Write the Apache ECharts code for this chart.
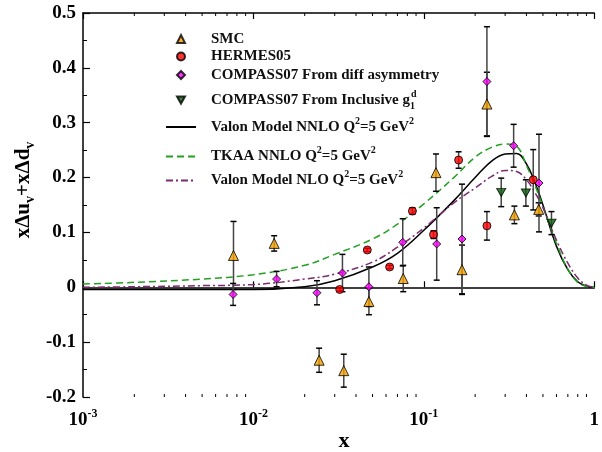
<!DOCTYPE html>
<html>
<head>
<meta charset="utf-8">
<script src="https://cdn.jsdelivr.net/npm/echarts@6/dist/echarts.min.js"></script>
<style>html,body{margin:0;padding:0;background:#fff;}#c{width:602px;height:452px;}</style>
</head>
<body>
<div id="c"></div>
<script>
// ---- data ----
const curveX    = [0.001, 0.002, 0.005, 0.01, 0.02, 0.03, 0.05, 0.07, 0.1, 0.15, 0.2, 0.25, 0.3, 0.35, 0.4, 0.45, 0.5, 0.6, 0.7, 0.8, 0.9, 1.0];
const valonNNLO = [-0.004, -0.004, -0.004, -0.004, 0.001, 0.012, 0.037, 0.062, 0.104, 0.158, 0.200, 0.230, 0.243, 0.244, 0.225, 0.190, 0.150, 0.075, 0.032, 0.010, 0.002, 0.0];
const tkaaNNLO  = [0.006, 0.009, 0.015, 0.023, 0.040, 0.060, 0.088, 0.115, 0.152, 0.200, 0.237, 0.255, 0.261, 0.257, 0.222, 0.185, 0.147, 0.080, 0.033, 0.009, 0.002, 0.0];
const valonNLO  = [0.000, 0.001, 0.003, 0.005, 0.015, 0.024, 0.046, 0.073, 0.108, 0.154, 0.181, 0.202, 0.213, 0.211, 0.196, 0.172, 0.145, 0.086, 0.044, 0.017, 0.004, 0.0];

const smcX   = [0.00764, 0.01324, 0.0243, 0.0339, 0.0476, 0.0757, 0.1178, 0.1675, 0.2345, 0.340, 0.472];
const smcY   = [0.058, 0.080, -0.133, -0.152, -0.026, 0.016, 0.209, 0.032, 0.334, 0.132, 0.142];
const smcErr = [0.062, 0.014, 0.022, 0.030, 0.024, 0.024, 0.034, 0.045, 0.058, 0.016, 0.012];

const hermesX   = [0.0321, 0.0466, 0.063, 0.0857, 0.114, 0.160, 0.2345, 0.4385];
const hermesY   = [-0.004, 0.068, 0.037, 0.139, 0.096, 0.232, 0.112, 0.196];
const hermesErr = [0.003, 0.003, 0.003, 0.006, 0.007, 0.015, 0.026, 0.055];

const cdiffX   = [0.0076, 0.01368, 0.0236, 0.0333, 0.0476, 0.0752, 0.119, 0.1675, 0.2345, 0.3365, 0.474];
const cdiffY   = [-0.013, 0.015, -0.010, 0.026, 0.001, 0.082, 0.079, 0.088, 0.375, 0.258, 0.190];
const cdiffErr = [0.020, 0.014, 0.022, 0.034, 0.036, 0.043, 0.066, 0.100, 0.100, 0.039, 0.089];

const cinclX   = [0.2845, 0.397, 0.561];
const cinclY   = [0.173, 0.172, 0.117];
const cinclErr = [0.026, 0.024, 0.021];

const yTicks = [-0.2, 0.5, 0.1]; // min, max, interval
const xRange = [0.001, 1];

// ---- chart ----
const FONT = '"Liberation Serif", "Times New Roman", serif';
const chart = echarts.init(document.getElementById('c'), null, {renderer: 'canvas'});

function pts(xs, ys) { return xs.map((x, i) => [x, ys[i]]); }
function errPts(xs, ys, es) { return xs.map((x, i) => [x, ys[i], es[i]]); }

function errRender(params, api) {
  const x = api.value(0), y = api.value(1), e = api.value(2);
  const lo = api.coord([x, y - e]), hi = api.coord([x, y + e]);
  const w = 3;
  const st = {stroke: '#444', lineWidth: 1.5};
  const sc = {stroke: '#000', lineWidth: 1.5};
  return {type: 'group', children: [
    {type: 'line', shape: {x1: lo[0], y1: lo[1], x2: hi[0], y2: hi[1]}, style: st},
    {type: 'line', shape: {x1: lo[0] - w, y1: lo[1], x2: lo[0] + w, y2: lo[1]}, style: sc},
    {type: 'line', shape: {x1: hi[0] - w, y1: hi[1], x2: hi[0] + w, y2: hi[1]}, style: sc}
  ]};
}

function minorTickRender(params, api) {
  const children = [];
  const lo = Math.round(Math.log10(xRange[0])), hi = Math.round(Math.log10(xRange[1]));
  for (let d = lo; d < hi; d++) {
    for (let k = 2; k <= 9; k++) {
      const v = k * Math.pow(10, d);
      const b = api.coord([v, yTicks[0]]);
      const t = api.coord([v, yTicks[1]]);
      children.push({type: 'line', shape: {x1: b[0], y1: b[1], x2: b[0], y2: b[1] - 3}, style: {stroke: '#000', lineWidth: 1}});
      children.push({type: 'line', shape: {x1: t[0], y1: t[1], x2: t[0], y2: t[1] + 3}, style: {stroke: '#000', lineWidth: 1}});
    }
  }
  return {type: 'group', children};
}

const downTri = 'path://M0,0 L10,0 L5,9 Z';

const labelMap = {
  'SMC': '{b|SMC}',
  'HERMES05': '{b|HERMES05}',
  'COMPASS07 From diff asymmetry': '{b|COMPASS07 From diff asymmetry}',
  'COMPASS07 From Inclusive g1d': '{b|COMPASS07 From Inclusive g}{sub|1}{sup|d}',
  'Valon Model NNLO Q2=5 GeV2': '{b|Valon Model NNLO Q}{sup|2}{b|=5 GeV}{sup|2}',
  'TKAA NNLO Q2=5 GeV2': '{b|TKAA NNLO Q}{sup|2}{b|=5 GeV}{sup|2}',
  'Valon Model NLO Q2=5 GeV2': '{b|Valon Model NLO Q}{sup|2}{b|=5 GeV}{sup|2}'
};
// [name, top, isLine]
const legendRows = [
  ['SMC', 31.5, false], ['HERMES05', 49, false], ['COMPASS07 From diff asymmetry', 67.5, false],
  ['COMPASS07 From Inclusive g1d', 89, false], ['Valon Model NNLO Q2=5 GeV2', 116, true],
  ['TKAA NNLO Q2=5 GeV2', 145.5, true], ['Valon Model NLO Q2=5 GeV2', 169.5, true]
];
const legendRich = {
  b: {fontFamily: FONT, fontWeight: 'bold', fontSize: 15, lineHeight: 22, color: '#111'},
  sup: {fontFamily: FONT, fontWeight: 'bold', fontSize: 10, lineHeight: 10, verticalAlign: 'top', color: '#111'},
  sub: {fontFamily: FONT, fontWeight: 'bold', fontSize: 10, lineHeight: 10, verticalAlign: 'bottom', width: 1, color: '#111'}
};

const legends = legendRows.map(([name, top, isLine]) => {
  const lg = {
    data: [name], left: isLine ? 165 : 176, top: top, orient: 'vertical',
    itemWidth: isLine ? 30 : 8, itemHeight: isLine ? 9 : 8, padding: 0, itemGap: 0,
    selectedMode: false,
    formatter: n => labelMap[n],
    textStyle: {rich: legendRich, padding: [0, 0, 0, isLine ? 10 : 21]}
  };
  if (isLine) lg.itemStyle = {color: 'rgba(0,0,0,0)', borderColor: 'rgba(0,0,0,0)', borderWidth: 0};
  return lg;
});

const option = {
  animation: false,
  backgroundColor: '#fff',
  legend: legends,
  grid: {left: 83, right: -3, top: 13, bottom: 55, containLabel: false},
  xAxis: [{
    type: 'log', logBase: 10, min: xRange[0], max: xRange[1], position: 'bottom',
    axisLine: {lineStyle: {color: '#000', width: 1.5}},
    axisTick: {inside: true, length: 6, lineStyle: {color: '#000', width: 1.2}},
    splitLine: {show: false},
    axisLabel: {
      margin: 11,
      formatter: v => {
        const e = Math.round(Math.log10(v));
        return e === 0 ? '{b|1}' : '{b|10}{s|' + e + '}';
      },
      rich: {
        b: {fontFamily: FONT, fontWeight: 'bold', fontSize: 19, lineHeight: 24, color: '#000'},
        s: {fontFamily: FONT, fontWeight: 'bold', fontSize: 12, lineHeight: 12, verticalAlign: 'top', color: '#000'}
      }
    }
  }, {
    type: 'log', logBase: 10, min: xRange[0], max: xRange[1], position: 'top',
    axisLine: {lineStyle: {color: '#000', width: 1.5}},
    axisTick: {inside: true, length: 6, lineStyle: {color: '#000', width: 1.2}},
    splitLine: {show: false}, axisLabel: {show: false}
  }],
  yAxis: [{
    type: 'value', min: yTicks[0], max: yTicks[1], interval: yTicks[2],
    axisLine: {show: true, lineStyle: {color: '#000', width: 1.5}},
    axisTick: {show: true, inside: true, length: 7, lineStyle: {color: '#000', width: 1.2}},
    minorTick: {show: true, splitNumber: 2, length: 4, lineStyle: {color: '#000', width: 1}},
    splitLine: {show: false},
    axisLabel: {margin: 7, fontFamily: FONT, fontWeight: 'bold', fontSize: 19, color: '#000',
      formatter: v => (Math.abs(v) < 1e-9 ? '0' : String(Math.round(v * 10) / 10))}
  }],
  graphic: [
    {type: 'text', x: 24, y: 190, rotation: Math.PI / 2, z: 100,
      style: {text: '{m|xΔu}{s|v}{m|+xΔd}{s|v}', textAlign: 'center', textVerticalAlign: 'middle',
        rich: {
          m: {fontFamily: FONT, fontWeight: 'bold', fontSize: 21, lineHeight: 26, fill: '#000'},
          s: {fontFamily: FONT, fontWeight: 'bold', fontSize: 14, lineHeight: 14, verticalAlign: 'bottom', fill: '#000'}
        }}},
    {type: 'text', x: 344, y: 441, z: 100,
      style: {text: 'x', font: 'bold 22px ' + FONT, fill: '#000', textAlign: 'center', textVerticalAlign: 'middle'}}
  ],
  series: [
    {type: 'custom', name: 'minor', renderItem: minorTickRender, data: [[0.01, 0]], clip: false, silent: true, z: 1},
    {name: 'Valon Model NNLO Q2=5 GeV2', type: 'line', data: pts(curveX, valonNNLO), showSymbol: false, symbol: 'none',
      smooth: 0.4, lineStyle: {color: '#000', width: 1.5, type: 'solid'}, itemStyle: {color: '#000'}, z: 2},
    {name: 'TKAA NNLO Q2=5 GeV2', type: 'line', data: pts(curveX, tkaaNNLO), showSymbol: false, symbol: 'none',
      smooth: 0.4, lineStyle: {color: '#22a022', width: 1.5, type: [7, 4]}, itemStyle: {color: '#22a022'}, z: 2},
    {name: 'Valon Model NLO Q2=5 GeV2', type: 'line', data: pts(curveX, valonNLO), showSymbol: false, symbol: 'none',
      smooth: 0.4, lineStyle: {color: '#7a2a6e', width: 1.5, type: [7, 3, 2, 3]}, itemStyle: {color: '#7a2a6e'}, z: 2},
    {type: 'custom', renderItem: errRender, data: errPts(smcX, smcY, smcErr), encode: {x: 0, y: 1}, z: 3, silent: true},
    {type: 'custom', renderItem: errRender, data: errPts(hermesX, hermesY, hermesErr), encode: {x: 0, y: 1}, z: 3, silent: true},
    {type: 'custom', renderItem: errRender, data: errPts(cdiffX, cdiffY, cdiffErr), encode: {x: 0, y: 1}, z: 3, silent: true},
    {type: 'custom', renderItem: errRender, data: errPts(cinclX, cinclY, cinclErr), encode: {x: 0, y: 1}, z: 3, silent: true},
    {name: 'SMC', type: 'scatter', data: pts(smcX, smcY), symbol: 'triangle', symbolSize: 10,
      itemStyle: {color: '#f2a100', borderColor: '#000', borderWidth: 1}, z: 5},
    {name: 'HERMES05', type: 'scatter', data: pts(hermesX, hermesY), symbol: 'circle', symbolSize: 8,
      itemStyle: {color: '#ff0000', borderColor: '#000', borderWidth: 1}, z: 5},
    {name: 'COMPASS07 From diff asymmetry', type: 'scatter', data: pts(cdiffX, cdiffY), symbol: 'diamond', symbolSize: 8,
      itemStyle: {color: '#ff00ff', borderColor: '#000', borderWidth: 1}, z: 5},
    {name: 'COMPASS07 From Inclusive g1d', type: 'scatter', data: pts(cinclX, cinclY), symbol: downTri, symbolSize: [9, 8],
      itemStyle: {color: '#0a640a', borderColor: '#000', borderWidth: 1}, z: 5}
  ]
};
chart.setOption(option);
</script>
</body>
</html>
